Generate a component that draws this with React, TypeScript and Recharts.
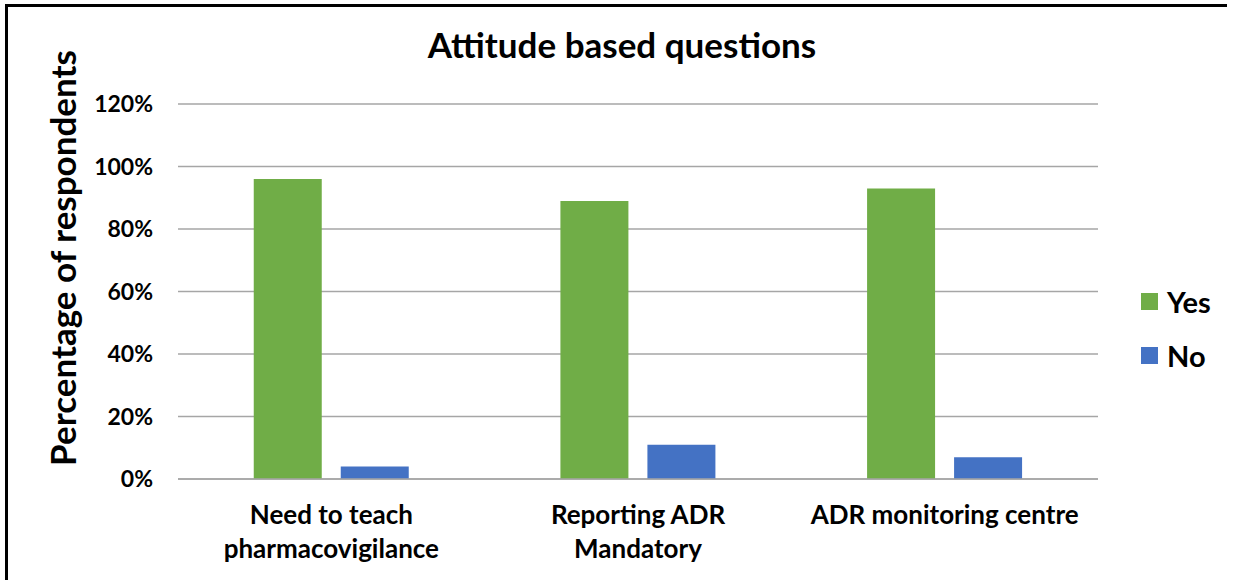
import React from 'react';
import { BarChart, Bar, XAxis, YAxis, CartesianGrid } from 'recharts';

const categories = ['Need to teach\npharmacovigilance', 'Reporting ADR\nMandatory', 'ADR monitoring centre'];
const yesValues = [96, 89, 93];
const noValues = [4, 11, 7];
const yTicks = [0, 20, 40, 60, 80, 100, 120];
const seriesNames = ['Yes', 'No'];
const seriesColors = ['#70AD47', '#4472C4'];

const data = categories.map((c, i) => ({ name: c, yes: yesValues[i], no: noValues[i] }));

const FONT = 'Lato, "Open Sans", sans-serif';

const XTick = (props: any) => {
  const { x, y, payload } = props;
  const lines = String(payload.value).split('\n');
  return (
    <g transform={`translate(${x},${y})`}>
      {lines.map((l: string, i: number) => (
        <text key={i} x={0} y={37 + i * 34} textAnchor="middle" fontFamily={FONT} fontWeight={700} fontSize={26} fill="#000">
          {l}
        </text>
      ))}
    </g>
  );
};

export default function App() {
  return (
    <div style={{ position: 'absolute', left: 0, top: 0, width: 1233, height: 580, background: '#fff' }}>
      <div style={{ position: 'absolute', left: 5, top: 4, width: 1219, height: 600, borderLeft: '3px solid #000', borderTop: '3px solid #000' }} />
      <div style={{ position: 'absolute', left: 0, top: 22, width: 1244, textAlign: 'center', fontFamily: FONT, fontWeight: 700, fontSize: 35, color: '#000', lineHeight: '44px' }}>
        Attitude based questions
      </div>
      <div style={{ position: 'absolute', left: 0, top: 0 }}>
        <BarChart width={1233} height={580} data={data} margin={{ top: 104, right: 135, left: 88, bottom: 41 }} barGap={19} barCategoryGap="24.7%">
          <CartesianGrid vertical={false} stroke="#A6A6A6" strokeWidth={1.5} />
          <XAxis dataKey="name" axisLine={{ stroke: '#A6A6A6', strokeWidth: 1.5 }} tickLine={false} tick={<XTick />} height={60} interval={0} />
          <YAxis
            domain={[0, 120]}
            ticks={yTicks}
            width={90}
            axisLine={false}
            tickLine={false}
            tickFormatter={(v: number) => `${v}%`}
            tick={{ fontFamily: FONT, fontWeight: 700, fontSize: 23, fill: '#000' }}
            tickMargin={19}
            label={{
              content: () => (
                <text x={0} y={0} transform="translate(76,258) rotate(-90)" textAnchor="middle" fontFamily={FONT} fontWeight={700} fontSize={35} fill="#000">
                  Percentage of respondents
                </text>
              ),
            }}
          />
          <Bar dataKey="yes" name={seriesNames[0]} fill={seriesColors[0]} isAnimationActive={false} />
          <Bar dataKey="no" name={seriesNames[1]} fill={seriesColors[1]} isAnimationActive={false} />
        </BarChart>
      </div>
      <div style={{ position: 'absolute', left: 1141, top: 274, fontFamily: FONT, fontWeight: 700, fontSize: 29, color: '#000' }}>
        {seriesNames.map((n, i) => (
          <div key={n} style={{ display: 'flex', alignItems: 'center', height: 54 }}>
            <span style={{ display: 'inline-block', width: 17, height: 17, background: seriesColors[i], marginRight: 9 }} />
            <span>{n}</span>
          </div>
        ))}
      </div>
    </div>
  );
}
